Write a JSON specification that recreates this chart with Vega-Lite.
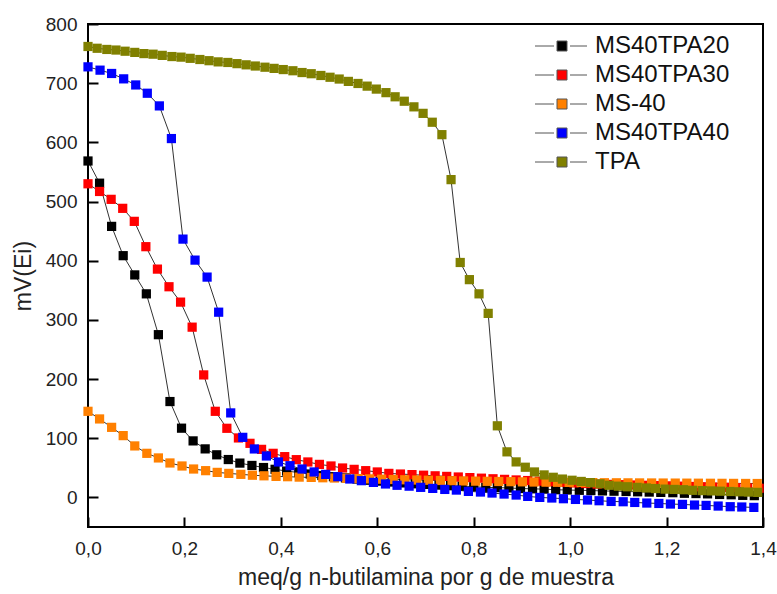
{
"$schema": "https://vega.github.io/schema/vega-lite/v6.json",
"width": 675, "height": 503,
"autosize": {"type": "none"},
"padding": {"left": 88, "top": 24, "right": 14, "bottom": 67},
"background": "white",
"config": {
  "font": "Liberation Sans",
  "view": {"stroke": "#000", "strokeWidth": 2},
  "axis": {"labelFont": "Liberation Sans", "labelFontSize": 19, "labelColor": "#222", "titleFont": "Liberation Sans", "titleFontSize": 23, "titleFontWeight": "normal", "titleColor": "#222"},
  "legend": {"labelFont": "Liberation Sans", "labelFontSize": 24, "labelColor": "#111", "labelLimit": 400}
},
"data": {"values": [
{"s":"MS40TPA20","x":0,"y":568.5},{"s":"MS40TPA20","x":0.024,"y":531},{"s":"MS40TPA20","x":0.049,"y":458},{"s":"MS40TPA20","x":0.073,"y":408.5},{"s":"MS40TPA20","x":0.097,"y":376},{"s":"MS40TPA20","x":0.121,"y":344},{"s":"MS40TPA20","x":0.146,"y":275},{"s":"MS40TPA20","x":0.170,"y":162},{"s":"MS40TPA20","x":0.194,"y":117},{"s":"MS40TPA20","x":0.218,"y":95.5},{"s":"MS40TPA20","x":0.243,"y":82},{"s":"MS40TPA20","x":0.267,"y":72},{"s":"MS40TPA20","x":0.291,"y":64},{"s":"MS40TPA20","x":0.315,"y":58},{"s":"MS40TPA20","x":0.340,"y":54},{"s":"MS40TPA20","x":0.364,"y":50.5},{"s":"MS40TPA20","x":0.388,"y":47.5},{"s":"MS40TPA20","x":0.412,"y":44.5},{"s":"MS40TPA20","x":0.437,"y":42},{"s":"MS40TPA20","x":0.461,"y":39.5},{"s":"MS40TPA20","x":0.485,"y":37},{"s":"MS40TPA20","x":0.509,"y":35},{"s":"MS40TPA20","x":0.534,"y":33},{"s":"MS40TPA20","x":0.558,"y":31},{"s":"MS40TPA20","x":0.582,"y":29},{"s":"MS40TPA20","x":0.606,"y":27.5},{"s":"MS40TPA20","x":0.631,"y":26},{"s":"MS40TPA20","x":0.655,"y":24.5},{"s":"MS40TPA20","x":0.679,"y":23},{"s":"MS40TPA20","x":0.703,"y":22},{"s":"MS40TPA20","x":0.728,"y":21},{"s":"MS40TPA20","x":0.752,"y":20},{"s":"MS40TPA20","x":0.776,"y":19},{"s":"MS40TPA20","x":0.800,"y":18},{"s":"MS40TPA20","x":0.825,"y":17},{"s":"MS40TPA20","x":0.849,"y":16.5},{"s":"MS40TPA20","x":0.873,"y":16},{"s":"MS40TPA20","x":0.897,"y":15},{"s":"MS40TPA20","x":0.922,"y":14.5},{"s":"MS40TPA20","x":0.946,"y":14},{"s":"MS40TPA20","x":0.970,"y":13},{"s":"MS40TPA20","x":0.994,"y":12.5},{"s":"MS40TPA20","x":1.019,"y":12},{"s":"MS40TPA20","x":1.043,"y":11.5},{"s":"MS40TPA20","x":1.067,"y":11},{"s":"MS40TPA20","x":1.091,"y":10.5},{"s":"MS40TPA20","x":1.116,"y":10},{"s":"MS40TPA20","x":1.140,"y":9.5},{"s":"MS40TPA20","x":1.164,"y":9},{"s":"MS40TPA20","x":1.188,"y":8.5},{"s":"MS40TPA20","x":1.213,"y":8},{"s":"MS40TPA20","x":1.237,"y":7},{"s":"MS40TPA20","x":1.261,"y":6.5},{"s":"MS40TPA20","x":1.285,"y":6},{"s":"MS40TPA20","x":1.310,"y":5},{"s":"MS40TPA20","x":1.334,"y":4.5},{"s":"MS40TPA20","x":1.358,"y":3.5},{"s":"MS40TPA20","x":1.382,"y":3},
{"s":"MS40TPA30","x":0,"y":530},{"s":"MS40TPA30","x":0.024,"y":517},{"s":"MS40TPA30","x":0.048,"y":503.7},{"s":"MS40TPA30","x":0.072,"y":488.5},{"s":"MS40TPA30","x":0.096,"y":466.5},{"s":"MS40TPA30","x":0.12,"y":423.7},{"s":"MS40TPA30","x":0.144,"y":385.8},{"s":"MS40TPA30","x":0.168,"y":356},{"s":"MS40TPA30","x":0.192,"y":330},{"s":"MS40TPA30","x":0.216,"y":287.7},{"s":"MS40TPA30","x":0.24,"y":207},{"s":"MS40TPA30","x":0.264,"y":145.5},{"s":"MS40TPA30","x":0.288,"y":116.8},{"s":"MS40TPA30","x":0.312,"y":100.5},{"s":"MS40TPA30","x":0.336,"y":91.4},{"s":"MS40TPA30","x":0.36,"y":81.2},{"s":"MS40TPA30","x":0.384,"y":74.5},{"s":"MS40TPA30","x":0.408,"y":68.9},{"s":"MS40TPA30","x":0.432,"y":63.8},{"s":"MS40TPA30","x":0.456,"y":59.9},{"s":"MS40TPA30","x":0.48,"y":55.8},{"s":"MS40TPA30","x":0.504,"y":53.1},{"s":"MS40TPA30","x":0.528,"y":49.7},{"s":"MS40TPA30","x":0.552,"y":47.4},{"s":"MS40TPA30","x":0.576,"y":45.2},{"s":"MS40TPA30","x":0.6,"y":43},{"s":"MS40TPA30","x":0.624,"y":40.6},{"s":"MS40TPA30","x":0.648,"y":39.5},{"s":"MS40TPA30","x":0.672,"y":38.5},{"s":"MS40TPA30","x":0.696,"y":37.5},{"s":"MS40TPA30","x":0.72,"y":36.5},{"s":"MS40TPA30","x":0.744,"y":35.5},{"s":"MS40TPA30","x":0.768,"y":34.5},{"s":"MS40TPA30","x":0.792,"y":33.5},{"s":"MS40TPA30","x":0.816,"y":32.5},{"s":"MS40TPA30","x":0.84,"y":31.5},{"s":"MS40TPA30","x":0.864,"y":30.5},{"s":"MS40TPA30","x":0.888,"y":29.5},{"s":"MS40TPA30","x":0.912,"y":28.5},{"s":"MS40TPA30","x":0.936,"y":27.5},{"s":"MS40TPA30","x":0.96,"y":26.5},{"s":"MS40TPA30","x":0.984,"y":25.5},{"s":"MS40TPA30","x":1.008,"y":24.5},{"s":"MS40TPA30","x":1.032,"y":23.5},{"s":"MS40TPA30","x":1.056,"y":22.5},{"s":"MS40TPA30","x":1.08,"y":22},{"s":"MS40TPA30","x":1.104,"y":21.5},{"s":"MS40TPA30","x":1.128,"y":21},{"s":"MS40TPA30","x":1.152,"y":20.5},{"s":"MS40TPA30","x":1.176,"y":20},{"s":"MS40TPA30","x":1.2,"y":19.5},{"s":"MS40TPA30","x":1.224,"y":19},{"s":"MS40TPA30","x":1.248,"y":18.5},{"s":"MS40TPA30","x":1.272,"y":18},{"s":"MS40TPA30","x":1.296,"y":17.5},{"s":"MS40TPA30","x":1.32,"y":17},{"s":"MS40TPA30","x":1.344,"y":16.5},{"s":"MS40TPA30","x":1.368,"y":16},{"s":"MS40TPA30","x":1.392,"y":15.5},
{"s":"MS-40","x":0,"y":145.5},{"s":"MS-40","x":0.024,"y":132.6},{"s":"MS-40","x":0.049,"y":118.4},{"s":"MS-40","x":0.073,"y":104.4},{"s":"MS-40","x":0.097,"y":87},{"s":"MS-40","x":0.122,"y":74.5},{"s":"MS-40","x":0.146,"y":66.7},{"s":"MS-40","x":0.170,"y":58.2},{"s":"MS-40","x":0.195,"y":53.1},{"s":"MS-40","x":0.219,"y":48},{"s":"MS-40","x":0.244,"y":45.2},{"s":"MS-40","x":0.268,"y":42.3},{"s":"MS-40","x":0.292,"y":40.6},{"s":"MS-40","x":0.317,"y":39},{"s":"MS-40","x":0.341,"y":37.5},{"s":"MS-40","x":0.365,"y":36.5},{"s":"MS-40","x":0.390,"y":35.5},{"s":"MS-40","x":0.414,"y":35},{"s":"MS-40","x":0.438,"y":34.3},{"s":"MS-40","x":0.463,"y":33.8},{"s":"MS-40","x":0.487,"y":33.2},{"s":"MS-40","x":0.511,"y":32.8},{"s":"MS-40","x":0.536,"y":32.3},{"s":"MS-40","x":0.560,"y":31.8},{"s":"MS-40","x":0.584,"y":31.3},{"s":"MS-40","x":0.609,"y":30.8},{"s":"MS-40","x":0.633,"y":30.3},{"s":"MS-40","x":0.657,"y":29.8},{"s":"MS-40","x":0.682,"y":29.4},{"s":"MS-40","x":0.706,"y":29},{"s":"MS-40","x":0.731,"y":28.6},{"s":"MS-40","x":0.755,"y":28.2},{"s":"MS-40","x":0.779,"y":27.8},{"s":"MS-40","x":0.804,"y":27.5},{"s":"MS-40","x":0.828,"y":27.2},{"s":"MS-40","x":0.852,"y":26.9},{"s":"MS-40","x":0.877,"y":26.6},{"s":"MS-40","x":0.901,"y":26.3},{"s":"MS-40","x":0.925,"y":26},{"s":"MS-40","x":0.950,"y":25.8},{"s":"MS-40","x":0.974,"y":25.6},{"s":"MS-40","x":0.998,"y":25.4},{"s":"MS-40","x":1.023,"y":25.2},{"s":"MS-40","x":1.047,"y":25},{"s":"MS-40","x":1.071,"y":24.8},{"s":"MS-40","x":1.096,"y":24.7},{"s":"MS-40","x":1.120,"y":24.6},{"s":"MS-40","x":1.144,"y":24.5},{"s":"MS-40","x":1.169,"y":24.4},{"s":"MS-40","x":1.193,"y":24.3},{"s":"MS-40","x":1.218,"y":24.2},{"s":"MS-40","x":1.242,"y":24.1},{"s":"MS-40","x":1.266,"y":24},{"s":"MS-40","x":1.291,"y":23.9},{"s":"MS-40","x":1.315,"y":23.8},{"s":"MS-40","x":1.339,"y":23.7},{"s":"MS-40","x":1.364,"y":23.6},{"s":"MS-40","x":1.388,"y":23.5},
{"s":"MS40TPA40","x":0,"y":727.6},{"s":"MS40TPA40","x":0.025,"y":722},{"s":"MS40TPA40","x":0.049,"y":716.4},{"s":"MS40TPA40","x":0.074,"y":707.3},{"s":"MS40TPA40","x":0.099,"y":697},{"s":"MS40TPA40","x":0.123,"y":683},{"s":"MS40TPA40","x":0.148,"y":661.6},{"s":"MS40TPA40","x":0.173,"y":606.4},{"s":"MS40TPA40","x":0.197,"y":436.5},{"s":"MS40TPA40","x":0.222,"y":401},{"s":"MS40TPA40","x":0.247,"y":372.3},{"s":"MS40TPA40","x":0.271,"y":313},{"s":"MS40TPA40","x":0.296,"y":142.8},{"s":"MS40TPA40","x":0.321,"y":101.5},{"s":"MS40TPA40","x":0.345,"y":81.9},{"s":"MS40TPA40","x":0.370,"y":70},{"s":"MS40TPA40","x":0.395,"y":59.9},{"s":"MS40TPA40","x":0.419,"y":53.6},{"s":"MS40TPA40","x":0.444,"y":48},{"s":"MS40TPA40","x":0.469,"y":43},{"s":"MS40TPA40","x":0.493,"y":38.9},{"s":"MS40TPA40","x":0.518,"y":35},{"s":"MS40TPA40","x":0.543,"y":31.1},{"s":"MS40TPA40","x":0.567,"y":28.3},{"s":"MS40TPA40","x":0.592,"y":25.4},{"s":"MS40TPA40","x":0.617,"y":22.7},{"s":"MS40TPA40","x":0.641,"y":20.5},{"s":"MS40TPA40","x":0.666,"y":19},{"s":"MS40TPA40","x":0.690,"y":17},{"s":"MS40TPA40","x":0.715,"y":15.2},{"s":"MS40TPA40","x":0.740,"y":13.5},{"s":"MS40TPA40","x":0.764,"y":12.4},{"s":"MS40TPA40","x":0.789,"y":10.2},{"s":"MS40TPA40","x":0.814,"y":9.1},{"s":"MS40TPA40","x":0.838,"y":7.4},{"s":"MS40TPA40","x":0.863,"y":5.7},{"s":"MS40TPA40","x":0.888,"y":4},{"s":"MS40TPA40","x":0.912,"y":1.7},{"s":"MS40TPA40","x":0.937,"y":0},{"s":"MS40TPA40","x":0.962,"y":-1},{"s":"MS40TPA40","x":0.986,"y":-2.2},{"s":"MS40TPA40","x":1.011,"y":-3.4},{"s":"MS40TPA40","x":1.036,"y":-4.4},{"s":"MS40TPA40","x":1.060,"y":-5.6},{"s":"MS40TPA40","x":1.085,"y":-6.8},{"s":"MS40TPA40","x":1.110,"y":-7.3},{"s":"MS40TPA40","x":1.134,"y":-8.5},{"s":"MS40TPA40","x":1.159,"y":-9.5},{"s":"MS40TPA40","x":1.184,"y":-10.2},{"s":"MS40TPA40","x":1.208,"y":-11.2},{"s":"MS40TPA40","x":1.233,"y":-11.8},{"s":"MS40TPA40","x":1.258,"y":-12.9},{"s":"MS40TPA40","x":1.282,"y":-13.5},{"s":"MS40TPA40","x":1.307,"y":-14.6},{"s":"MS40TPA40","x":1.332,"y":-15.7},{"s":"MS40TPA40","x":1.356,"y":-16.2},{"s":"MS40TPA40","x":1.381,"y":-16.9},
{"s":"TPA","x":0,"y":762},{"s":"TPA","x":0.019,"y":759},{"s":"TPA","x":0.039,"y":757},{"s":"TPA","x":0.058,"y":756},{"s":"TPA","x":0.077,"y":754},{"s":"TPA","x":0.097,"y":752},{"s":"TPA","x":0.116,"y":750},{"s":"TPA","x":0.135,"y":749},{"s":"TPA","x":0.154,"y":747},{"s":"TPA","x":0.174,"y":745},{"s":"TPA","x":0.193,"y":744},{"s":"TPA","x":0.212,"y":742},{"s":"TPA","x":0.232,"y":740},{"s":"TPA","x":0.251,"y":738},{"s":"TPA","x":0.270,"y":736},{"s":"TPA","x":0.290,"y":735},{"s":"TPA","x":0.309,"y":733},{"s":"TPA","x":0.328,"y":731},{"s":"TPA","x":0.347,"y":729},{"s":"TPA","x":0.367,"y":727},{"s":"TPA","x":0.386,"y":725},{"s":"TPA","x":0.405,"y":723},{"s":"TPA","x":0.425,"y":721},{"s":"TPA","x":0.444,"y":718},{"s":"TPA","x":0.463,"y":716},{"s":"TPA","x":0.483,"y":713},{"s":"TPA","x":0.502,"y":710},{"s":"TPA","x":0.521,"y":707},{"s":"TPA","x":0.540,"y":703},{"s":"TPA","x":0.560,"y":699.5},{"s":"TPA","x":0.579,"y":695},{"s":"TPA","x":0.598,"y":690},{"s":"TPA","x":0.618,"y":684},{"s":"TPA","x":0.637,"y":677},{"s":"TPA","x":0.656,"y":669.5},{"s":"TPA","x":0.676,"y":660},{"s":"TPA","x":0.695,"y":649},{"s":"TPA","x":0.714,"y":634},{"s":"TPA","x":0.734,"y":613},{"s":"TPA","x":0.753,"y":537},{"s":"TPA","x":0.772,"y":397},{"s":"TPA","x":0.791,"y":368},{"s":"TPA","x":0.811,"y":344},{"s":"TPA","x":0.830,"y":311},{"s":"TPA","x":0.849,"y":121},{"s":"TPA","x":0.869,"y":77},{"s":"TPA","x":0.888,"y":60},{"s":"TPA","x":0.907,"y":51},{"s":"TPA","x":0.926,"y":43},{"s":"TPA","x":0.946,"y":38},{"s":"TPA","x":0.965,"y":34},{"s":"TPA","x":0.984,"y":31},{"s":"TPA","x":1.004,"y":29},{"s":"TPA","x":1.023,"y":27},{"s":"TPA","x":1.042,"y":25},{"s":"TPA","x":1.062,"y":23},{"s":"TPA","x":1.081,"y":20.5},{"s":"TPA","x":1.100,"y":19},{"s":"TPA","x":1.119,"y":18},{"s":"TPA","x":1.139,"y":17},{"s":"TPA","x":1.158,"y":16},{"s":"TPA","x":1.177,"y":15},{"s":"TPA","x":1.197,"y":14},{"s":"TPA","x":1.216,"y":13.5},{"s":"TPA","x":1.235,"y":13},{"s":"TPA","x":1.254,"y":12},{"s":"TPA","x":1.274,"y":11.5},{"s":"TPA","x":1.293,"y":11},{"s":"TPA","x":1.312,"y":10.5},{"s":"TPA","x":1.332,"y":10},{"s":"TPA","x":1.351,"y":9.5},{"s":"TPA","x":1.370,"y":9},{"s":"TPA","x":1.389,"y":8.5}
]},
"layer": [
  {"mark": {"type": "line", "color": "#333", "strokeWidth": 1},
   "encoding": {
     "x": {"field": "x", "type": "quantitative", "scale": {"domain": [0, 1.4], "nice": false, "zero": false},
           "axis": {"orient": "bottom", "values": [0, 0.2, 0.4, 0.6, 0.8, 1.0, 1.2, 1.4], "grid": false, "domain": false, "tickColor": "#000", "tickWidth": 2, "tickSize": -10, "labelPadding": 22, "labelFlush": false, "labelExpr": "replace(format(datum.value, '.1f'), '.', ',')", "title": "meq/g n-butilamina por g de muestra", "titlePadding": 8}},
     "y": {"field": "y", "type": "quantitative", "scale": {"domain": [-50, 800], "nice": false, "zero": false},
           "axis": {"orient": "left", "values": [0, 100, 200, 300, 400, 500, 600, 700, 800], "grid": false, "domain": false, "tickColor": "#000", "tickWidth": 2, "tickSize": -10, "labelPadding": 21, "labelFlush": false, "title": "mV(Ei)", "titlePadding": 10}},
     "detail": {"field": "s", "type": "nominal"}
   }},
  {"mark": {"type": "point", "shape": "square", "filled": true, "size": 85, "opacity": 1},
   "encoding": {
     "x": {"field": "x", "type": "quantitative",
           "axis": {"orient": "bottom", "values": [0, 0.2, 0.4, 0.6, 0.8, 1.0, 1.2, 1.4], "grid": false, "domain": false, "tickColor": "#000", "tickWidth": 2, "tickSize": -10, "labelPadding": 22, "labelFlush": false, "labelExpr": "replace(format(datum.value, '.1f'), '.', ',')", "title": "meq/g n-butilamina por g de muestra", "titlePadding": 8}},
     "y": {"field": "y", "type": "quantitative",
           "axis": {"orient": "left", "values": [0, 100, 200, 300, 400, 500, 600, 700, 800], "grid": false, "domain": false, "tickColor": "#000", "tickWidth": 2, "tickSize": -10, "labelPadding": 21, "labelFlush": false, "title": "mV(Ei)", "titlePadding": 10}},
     "color": {"field": "s", "type": "nominal",
               "scale": {"domain": ["MS40TPA20", "MS40TPA30", "MS-40", "MS40TPA40", "TPA"], "range": ["#000000", "#ff0000", "#ff8000", "#0000ff", "#808000"]},
               "legend": {"title": null, "orient": "none", "legendX": 462, "legendY": 10, "padding": 0, "symbolType": "M-5.4,0H-1.6M1.6,0H5M-1,-1H1V1H-1Z", "symbolSize": 100, "symbolStrokeWidth": 1, "symbolOpacity": 1, "labelOffset": 21, "rowPadding": 5,
                          "encode": {"symbols": {"update": {"stroke": {"value": "#555"}, "strokeWidth": {"value": 1}}}}}}
   }}
]
}
